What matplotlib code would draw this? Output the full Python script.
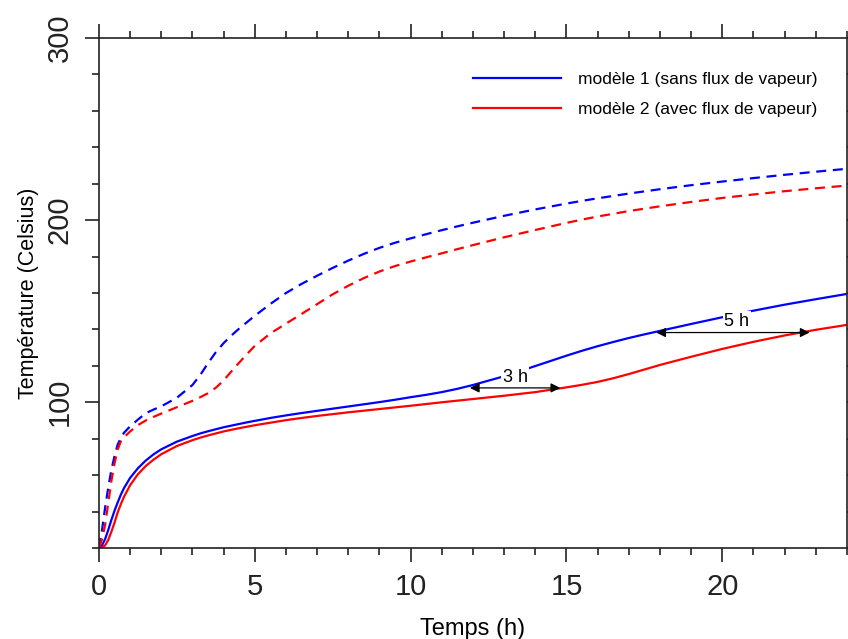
import matplotlib
matplotlib.use("Agg")
import matplotlib.pyplot as plt
from matplotlib.ticker import MultipleLocator, FixedLocator

plt.rcParams['font.family'] = ['Liberation Sans', 'DejaVu Sans']

# temps (h)
temps = [0, 0.1, 0.2, 0.3, 0.4, 0.5, 0.6, 0.7, 0.8, 1.0, 1.25, 1.5, 1.75, 2, 2.5, 3, 3.25, 3.5, 3.75,
         4, 4.25, 4.5, 4.75, 5, 5.5, 6, 6.5, 7, 7.5, 8, 8.5, 9, 9.5, 10, 10.5, 11, 11.5, 12, 13, 14, 15, 15.5,
         16, 16.5, 17, 17.5, 18, 19, 20, 21, 22, 23, 24]

# modèle 1 (sans flux de vapeur)
m1_trait = [20, 21.5, 25, 30, 35.5, 40.5, 45, 49.2, 52.8, 58.5, 63.8, 68, 71.4, 74.2, 78.4, 81.5, 82.9, 84.1, 85.2,
            86.3, 87.2, 88.1, 89, 89.8, 91.4, 92.8, 94.1, 95.3, 96.5, 97.7, 98.9, 100.1, 101.4, 102.8, 104.1,
            105.6, 107.4, 109.5, 114.3, 119.9, 125.6, 128.3,
            130.8, 133.1, 135.3, 137.3, 139.2, 143, 146.7, 150.3, 153.6, 156.6, 159.5]
m1_tirets = [20, 30, 42.5, 53.5, 63, 70.5, 76.8, 80.3, 83.2, 86.8, 90.5, 94, 96, 97.8, 102.5, 109.5, 115, 121.5, 127.5,
             132.5, 136.7, 140.5, 144, 147.5, 154, 160, 165, 169.5, 173.8, 177.8, 181.5, 184.8, 187.6, 190, 192.3,
             194.5, 196.6, 198.6, 202.4, 205.9, 209.1, 210.6,
             212, 213.3, 214.6, 215.8, 217, 219.2, 221.2, 223.1, 224.9, 226.6, 228.2]

# modèle 2 (avec flux de vapeur)
m2_trait = [20, 20.2, 21.5, 24.5, 29, 34, 39.5, 44, 48, 54.5, 60.5, 65, 68.5, 71.5, 76, 79.2, 80.6, 81.8, 82.9,
            84, 84.9, 85.8, 86.6, 87.4, 88.8, 90.2, 91.4, 92.5, 93.5, 94.5, 95.4, 96.3, 97.2, 98.1, 99.05,
            100, 100.9, 101.8, 103.6, 105.6, 108.2, 109.6,
            111.2, 113.2, 115.5, 118, 120.5, 125, 129.3, 133.2, 136.7, 139.8, 142.5]
m2_tirets = [20, 25, 33, 45, 57, 66.5, 74, 78.5, 80.7, 84, 87.5, 90, 92, 93.8, 97.3, 100.8, 102.8, 105, 108,
             112, 117, 121.8, 126.5, 131, 137.8, 143.2, 148.5, 153.9, 159.3, 164, 168.2, 171.8, 174.8, 177.3, 179.6,
             181.8, 184.1, 186.3, 190.6, 194.6, 198.5, 200.3,
             202, 203.5, 205, 206.3, 207.6, 210, 212.2, 214.1, 215.9, 217.5, 219]

# décalages annotés : (x début, x fin, y, texte)
decalages = [(11.9, 14.8, 107.9, '3 h'), (17.88, 22.8, 138.3, '5 h')]
textes_pos = [(13.35, 113.8), (20.47, 144.5)]

fig = plt.figure(figsize=(8.48, 6.39), dpi=100)
ax = fig.add_axes([0.1167, 0.1424, 0.8821, 0.7981])

ax.plot(temps, m1_trait, color='#0000ff', lw=1.6, label='modèle 1 (sans flux de vapeur)')
ax.plot(temps, m2_trait, color='#ff0000', lw=1.6, label='modèle 2 (avec flux de vapeur)')
ax.plot(temps, m1_tirets, color='#0000ff', lw=1.6, ls=(0, (4.5, 3)))
ax.plot(temps, m2_tirets, color='#ff0000', lw=1.6, ls=(0, (4.5, 3)))

# flèches de décalage avec étiquette sur fond blanc
for (x0, x1, y, txt), (tx, ty) in zip(decalages, textes_pos):
    ax.annotate('', xy=(x0, y), xytext=(x1, y),
                arrowprops=dict(arrowstyle='<|-|>', color='black', lw=0.9,
                                mutation_scale=14, shrinkA=0, shrinkB=0))
    ax.text(tx, ty, txt, fontsize=13, ha='center', va='center', zorder=5,
            bbox=dict(facecolor='white', edgecolor='none', pad=1))

ax.set_xlim(0, 24)
ax.set_ylim(20, 300)
ax.xaxis.set_major_locator(MultipleLocator(5))
ax.xaxis.set_minor_locator(MultipleLocator(1))
ax.yaxis.set_major_locator(FixedLocator([100, 200, 300]))
ax.yaxis.set_minor_locator(MultipleLocator(20))

ax.tick_params(which='both', direction='out', top=True, right=True, colors='#222222')
ax.tick_params(which='major', length=10, width=1.2, labelsize=21, pad=8)
ax.tick_params(which='minor', length=5, width=1.2)
plt.setp(ax.get_yticklabels(), rotation=90, va='center')
for s in ax.spines.values():
    s.set_linewidth(1.2)
    s.set_color('#222222')

ax.set_xlabel('Temps (h)', fontsize=17, labelpad=12)
ax.set_ylabel('Température (Celsius)', fontsize=15.5, labelpad=5)

ax.legend(loc='upper left', bbox_to_anchor=(0.4906, 0.947), frameon=False, fontsize=12.5,
          handlelength=5.06, handletextpad=1.0, labelspacing=0.84, borderaxespad=0)

fig.savefig('out.png', dpi=100)
